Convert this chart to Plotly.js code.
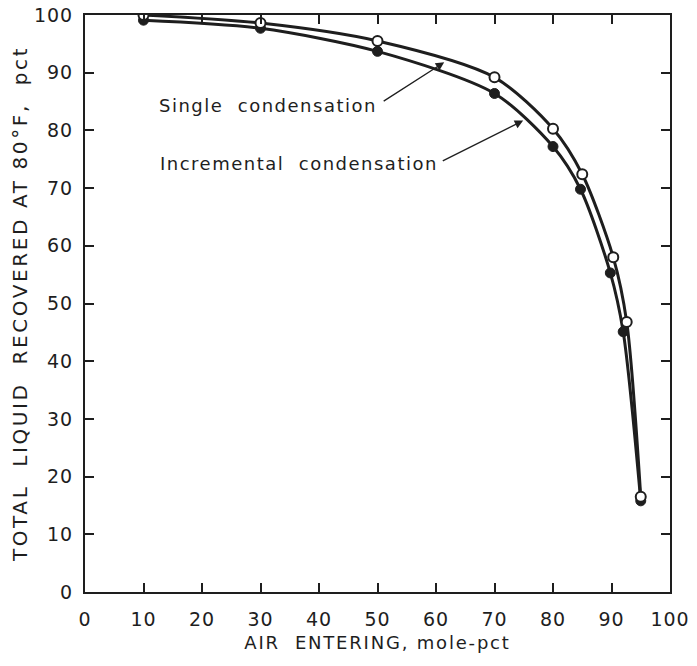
<!DOCTYPE html>
<html>
<head>
<meta charset="utf-8">
<script src="https://cdn.plot.ly/plotly-3.0.1.min.js"></script>
<style>
html,body{margin:0;padding:0;background:#fff;}
#chart{width:697px;height:666px;}
.xtitle{letter-spacing:1.8px;}
.ytitle{letter-spacing:2.6px;}
.annotation-text{letter-spacing:1.5px;}
.xtick text,.ytick text{letter-spacing:1px;}
</style>
</head>
<body>
<div id="chart"></div>
<script>
// Data
const airSingle = [10, 30, 50, 70, 80, 85, 90.3, 92.6, 95];
const liqSingle = [100, 98.6, 95.5, 89.2, 80.3, 72.4, 58.0, 46.8, 16.5];
const airIncr = [10, 30, 50, 70, 80, 84.7, 89.8, 92.0, 95];
const liqIncr = [99.1, 97.7, 93.7, 86.4, 77.2, 69.8, 55.3, 45.1, 15.8];
const xTicks = [0, 10, 20, 30, 40, 50, 60, 70, 80, 90, 100];
const yTicks = [0, 10, 20, 30, 40, 50, 60, 70, 80, 90, 100];

const ink = '#1e1e1e';
const fontFam = '"DejaVu Sans", sans-serif';

const traces = [
  {x: airIncr, y: liqIncr, mode: 'lines+markers', name: 'Incremental condensation',
   line: {color: ink, width: 3, shape: 'spline', smoothing: 0.8},
   marker: {symbol: 'circle', size: 10, color: ink, line: {color: ink, width: 1}}},
  {x: airSingle, y: liqSingle, mode: 'lines+markers', name: 'Single condensation',
   line: {color: ink, width: 3, shape: 'spline', smoothing: 0.8},
   marker: {symbol: 'circle', size: 10, color: '#ffffff', line: {color: ink, width: 2}}}
];

const axisCommon = {
  range: [0, 100], showgrid: false, zeroline: false, showline: true, linecolor: ink, linewidth: 2,
  mirror: 'allticks', ticks: 'inside', ticklen: 9, tickwidth: 2, tickcolor: ink,
  tickfont: {family: fontFam, size: 19, color: ink}, fixedrange: true
};

const layout = {
  width: 697, height: 666,
  margin: {l: 85, r: 27, t: 15, b: 74},
  paper_bgcolor: '#fff', plot_bgcolor: '#fff',
  showlegend: false,
  xaxis: Object.assign({}, axisCommon, {tickvals: xTicks, ticktext: xTicks.map(String), ticklabelstandoff: 9,
    title: {text: 'AIR  ENTERING, mole-pct', font: {family: fontFam, size: 18, color: ink}, standoff: 8}}),
  yaxis: Object.assign({}, axisCommon, {tickvals: yTicks, ticktext: yTicks.map(String), ticklabelstandoff: 6,
    title: {text: 'TOTAL  LIQUID  RECOVERED AT 80°F,  pct', font: {family: fontFam, size: 20, color: ink}, standoff: 1}}),
  annotations: [
    {x: 31.3, y: 84.3, xref: 'x', yref: 'y', text: 'Single  condensation', showarrow: false,
     font: {family: fontFam, size: 18, color: ink}},
    {x: 36.5, y: 74.3, xref: 'x', yref: 'y', text: 'Incremental  condensation', showarrow: false,
     font: {family: fontFam, size: 18, color: ink}},
    {x: 61.4, y: 91.8, xref: 'x', yref: 'y', ax: 50.8, ay: 84.9, axref: 'x', ayref: 'y',
     text: '', showarrow: true, arrowhead: 2, arrowsize: 1.3, arrowwidth: 1.3, arrowcolor: ink},
    {x: 74.9, y: 81.7, xref: 'x', yref: 'y', ax: 60.9, ay: 74.6, axref: 'x', ayref: 'y',
     text: '', showarrow: true, arrowhead: 2, arrowsize: 1.3, arrowwidth: 1.3, arrowcolor: ink}
  ]
};

Plotly.newPlot('chart', traces, layout, {staticPlot: true, displayModeBar: false});
</script>
</body>
</html>
